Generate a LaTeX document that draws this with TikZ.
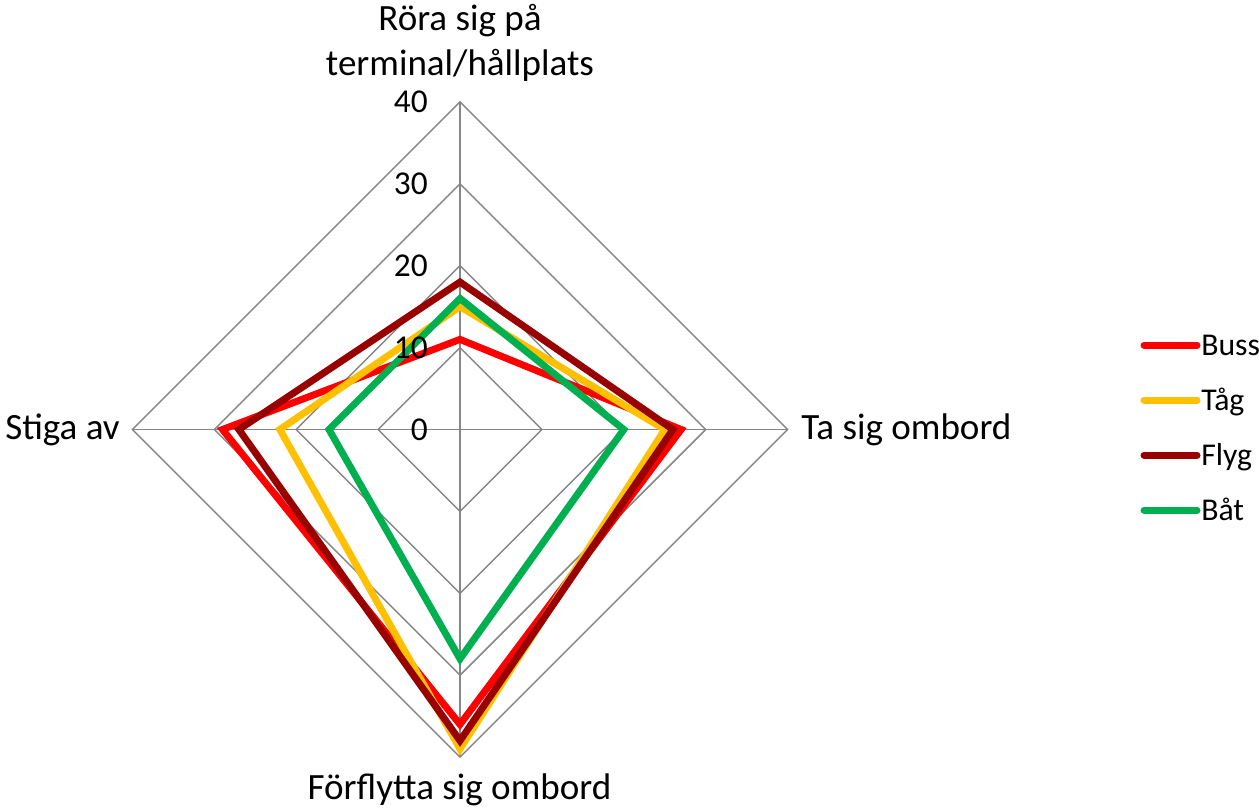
\documentclass[tikz,border=0pt]{standalone}
\usepackage{fontspec}
\setmainfont{Carlito}
\definecolor{cbuss}{HTML}{FF0000}
\definecolor{ctag}{HTML}{FFC000}
\definecolor{cflyg}{HTML}{990000}
\definecolor{cbat}{HTML}{00B050}
\definecolor{cgrid}{HTML}{868686}
\newcommand\radarline[5]{\draw[series,#1] (460,{429.5-#2*8.19}) -- ({460+#3*8.19},429.5) -- (460,{429.5+#4*8.19}) -- ({460-#5*8.19},429.5) -- cycle;}
\begin{document}
\begin{tikzpicture}[x=0.75pt,y=-0.75pt,
 gridline/.style={draw=cgrid,line width=1.1pt},
 series/.style={line width=5.25pt,line join=miter},
 title/.style={font=\fontsize{27.8}{33}\selectfont,inner sep=0pt},
 tick/.style={font=\fontsize{25}{30}\selectfont,inner sep=0pt,anchor=east},
 leg/.style={line width=5.25pt,line cap=round},
 legtext/.style={font=\fontsize{23.8}{28}\selectfont,inner sep=0pt,anchor=base west}]
\useasboundingbox (0,0) rectangle (1259,810);
\coordinate (c) at (460,429.5);
% grid
\foreach \r in {10,20,30,40}
  \draw[gridline] (460,{429.5-\r*8.19}) -- ({460+\r*8.19},429.5) -- (460,{429.5+\r*8.19}) -- ({460-\r*8.19},429.5) -- cycle;
\coordinate (top) at (460,{429.5-40*8.19});
\coordinate (bot) at (460,{429.5+40*8.19});
\coordinate (lft) at ({460-40*8.19},429.5);
\coordinate (rgt) at ({460+40*8.19},429.5);
\draw[gridline] (top) -- (bot);
\draw[gridline] (lft) -- (rgt);
% series
\radarline{cbuss}{11}{27}{36}{29}
\radarline{ctag}{15}{25}{39}{22}
\radarline{cflyg}{18}{26}{38}{27}
\radarline{cbat}{16}{20}{28}{16}
% tick labels
\foreach \r in {0,10,20,30,40}
  \node[tick] (tick\r) at (428,{429.5-\r*8.19}) {\r};
% axis titles
\node[title,anchor=base] (t1a) at (460,30) {Röra sig på};
\node[title,anchor=base] (t1b) at (460,75) {terminal/hållplats};
\node[title,anchor=base west] (t2) at (801,439) {Ta sig ombord};
\node[title,anchor=base] (t3) at (459.5,799) {Förflytta sig ombord};
\node[title,anchor=base west] (t4) at (5,439) {Stiga av};
% legend
\draw[leg,cbuss] (1144,345) -- (1197,345);
\node[legtext] (lb) at (1201,355) {Buss};
\draw[leg,ctag] (1144,400) -- (1197,400);
\node[legtext] (lt) at (1201,410) {Tåg};
\draw[leg,cflyg] (1144,455) -- (1197,455);
\node[legtext] (lf) at (1201,465) {Flyg};
\draw[leg,cbat] (1144,510) -- (1197,510);
\node[legtext] (lba) at (1201,520) {Båt};
\end{tikzpicture}
\end{document}
